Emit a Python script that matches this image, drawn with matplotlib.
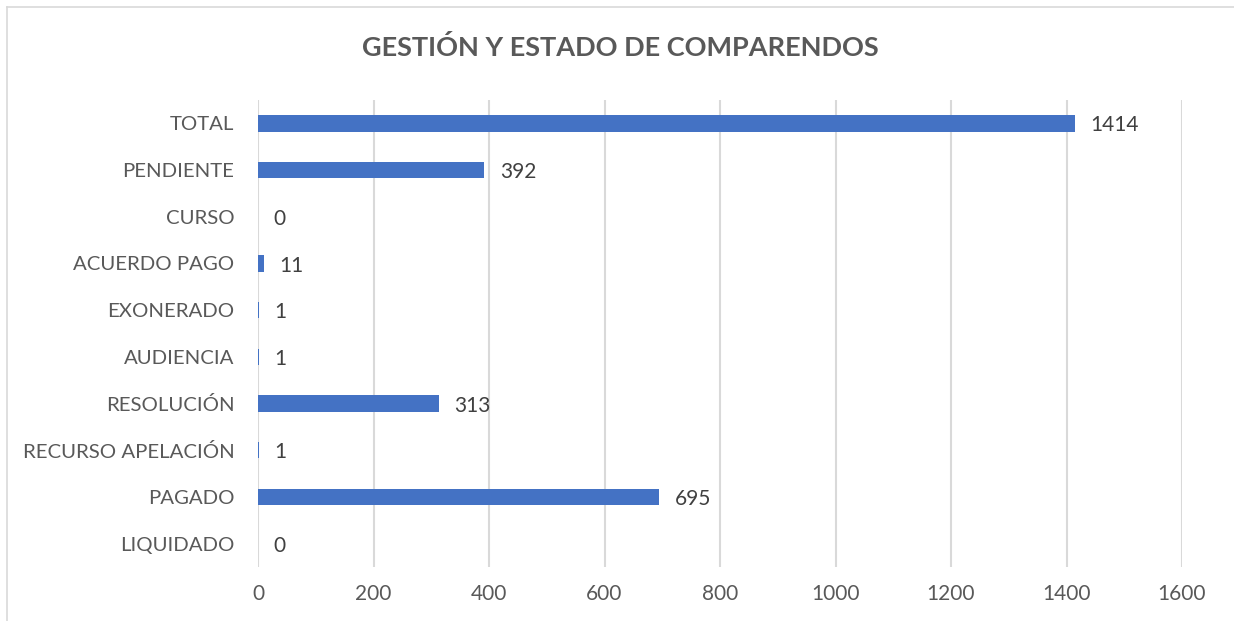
import matplotlib
matplotlib.use("Agg")
import matplotlib.pyplot as plt

plt.rcParams['font.family'] = ['Lato', 'DejaVu Sans']

# data (top to bottom as shown)
categories = ["TOTAL", "PENDIENTE", "CURSO", "ACUERDO PAGO", "EXONERADO",
              "AUDIENCIA", "RESOLUCIÓN", "RECURSO APELACIÓN", "PAGADO", "LIQUIDADO"]
values = [1414, 392, 0, 11, 1, 1, 313, 1, 695, 0]
xticks = [0, 200, 400, 600, 800, 1000, 1200, 1400, 1600]

W, H = 1234, 621
fig = plt.figure(figsize=(W / 100, H / 100), dpi=100)

# plot area in pixels: x 258..1182, y 100..567
left, right, top, bottom = 258, 1182, 100, 567
ax = fig.add_axes([left / W, 1 - bottom / H, (right - left) / W, (bottom - top) / H])

ypos = list(range(len(categories)))[::-1]
ax.barh(ypos, values, height=0.35, color="#4472C4", zorder=3)

for y, v in zip(ypos, values):
    ax.annotate(str(v), (v, y), xytext=(11, -1.5), textcoords="offset points",
                ha="left", va="center", fontsize=15, color="#404040", zorder=4)

ax.set_xlim(0, 1600)
ax.set_ylim(-0.5, len(categories) - 0.5)
ax.set_xticks(xticks)
ax.set_xticklabels([str(t) for t in xticks])
ax.set_yticks(ypos)
ax.set_yticklabels(categories)
ax.tick_params(axis="both", length=0, colors="#595959")
ax.tick_params(axis="x", pad=12, labelsize=15)
ax.tick_params(axis="y", pad=17, labelsize=14.7)
ax.grid(axis="x", color="#D9D9D9", linewidth=1.5, zorder=0)
for s in ax.spines.values():
    s.set_visible(False)

fig.text(620 / W, 1 - 47 / H, "GESTIÓN Y ESTADO DE COMPARENDOS", ha="center", va="center",
         fontsize=19.5, fontweight="bold", color="#595959")

# chart border (top and left visible, rest cropped)
fig.add_artist(plt.Line2D([7 / W, 1], [1 - 7 / H, 1 - 7 / H], color="#D9D9D9", linewidth=1.2,
                          transform=fig.transFigure))
fig.add_artist(plt.Line2D([7 / W, 7 / W], [0, 1 - 7 / H], color="#D9D9D9", linewidth=1.2,
                          transform=fig.transFigure))

fig.savefig("out.png", dpi=100)
